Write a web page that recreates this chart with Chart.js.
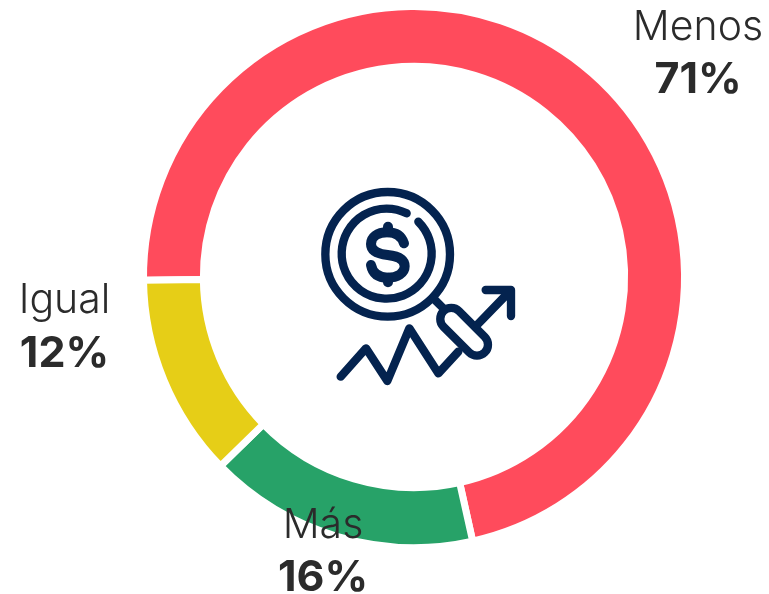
<!DOCTYPE html>
<html>
<head>
<meta charset="utf-8">
<style>
  html, body { margin: 0; padding: 0; background: #fff; }
  #wrap { position: relative; width: 769px; height: 594px; overflow: hidden; }
  #chart { position: absolute; left: 0; top: 0; }
  #icon { position: absolute; left: 310px; top: 175px; }
</style>
<script src="https://cdn.jsdelivr.net/npm/chart.js@4"></script>
</head>
<body>
<div id="wrap">
  <canvas id="chart" width="769" height="594"></canvas>
  <svg id="icon" width="220" height="220" viewBox="0 0 660 660" fill="none" stroke="#04234f" stroke-width="25" stroke-linecap="round" stroke-linejoin="round">
    <circle cx="233" cy="238" r="187"/>
    <path d="M290 115A135 135 0 1 0 325 140"/>
    <path stroke-width="30" d="M282 205C274 182 256 172 233 172C200 172 183 187 183 207C183 230 205 237 233 240C262 243 284 252 284 274C284 295 262 308 233 308C205 308 188 296 183 270"/>
    <path stroke-width="30" d="M234 155V172M234 308V322"/>
    <path d="M372 372L398 398"/>
    <rect x="375" y="437" width="175" height="66" rx="33" transform="rotate(45 462 470)"/>
    <path d="M92 605L168 520L232 618L298 460L385 595L445 530"/>
    <path d="M503 448L603 345M527 345H603V423"/>
  </svg>
</div>
<script>
const categories = ["Menos", "Más", "Igual"];
const values = [71, 16, 12];
const colors = ["#ff4b5c", "#27a268", "#e6ce17"];

// where the text of each slice sits: [center x, name baseline, percent baseline]
const labelPlaces = [
  [698, 40, 93],
  [323, 538, 591],
  [64.5, 313, 367],
];

const sliceLabels = {
  id: "sliceLabels",
  afterDraw(chart) {
    const ctx = chart.ctx;
    ctx.save();
    ctx.textAlign = "center";
    ctx.textBaseline = "alphabetic";
    ctx.fillStyle = "#2b2b2b";
    categories.forEach((name, i) => {
      const place = labelPlaces[i];
      ctx.font = "300 41px Inter";
      ctx.fillText(name, place[0], place[1]);
      ctx.font = "700 43px Inter";
      ctx.fillText(values[i] + "%", place[0], place[2]);
    });
    ctx.restore();
  },
};

new Chart(document.getElementById("chart"), {
  type: "doughnut",
  plugins: [sliceLabels],
  data: {
    labels: categories,
    datasets: [
      {
        data: values,
        backgroundColor: colors,
        borderColor: "#ffffff",
        borderWidth: 7,
      },
    ],
  },
  options: {
    responsive: false,
    animation: false,
    rotation: 269.3,
    radius: 270.5,
    cutout: 213,
    layout: { padding: { left: 59, bottom: 40 } },
    plugins: {
      legend: { display: false },
      tooltip: { enabled: false },
    },
  },
});
</script>
</body>
</html>
